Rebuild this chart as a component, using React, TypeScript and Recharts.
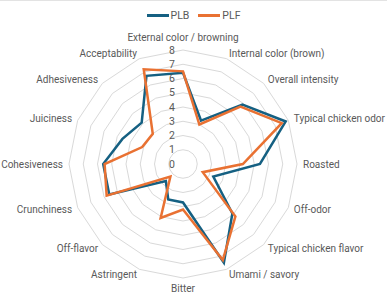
import React from "react";
import {
  RadarChart,
  Radar,
  PolarGrid,
  PolarAngleAxis,
  PolarRadiusAxis,
  Legend,
} from "recharts";

const attributes = [
  "External color / browning",
  "Internal color (brown)",
  "Overall intensity",
  "Typical chicken odor",
  "Roasted",
  "Off-odor",
  "Typical chicken flavor",
  "Umami / savory",
  "Bitter",
  "Astringent",
  "Off-flavor",
  "Crunchiness",
  "Cohesiveness",
  "Juiciness",
  "Adhesiveness",
  "Acceptability",
];
const plb = [6.4, 3.3, 5.9, 7.8, 5.4, 2.3, 4.9, 7.5, 2.7, 2.7, 1.7, 5.6, 5.6, 4.6, 4.1, 6.7];
const plf = [6.5, 3.0, 5.7, 7.5, 4.2, 1.5, 5.2, 7.3, 3.2, 4.1, 1.25, 5.8, 5.5, 3.1, 3.0, 7.2];

const data = attributes.map((attribute, i) => ({
  attribute,
  PLB: plb[i],
  PLF: plf[i],
}));

// chart centre in svg coords (svg sits 1px below page top)
const CX = 183;
const CY = 163;
const R = 114;
const LABEL_R = 120;
const TEXT = "#595959";
const FONT = "Roboto, 'Noto Sans', sans-serif";
const BLUE = "#156082";
const ORANGE = "#E97132";

const AngleTick = (props: any) => {
  const i = attributes.indexOf(props.payload.value);
  const t = (i * 2 * Math.PI) / attributes.length;
  const s = Math.sin(t);
  const c = Math.cos(t);
  const anchor = Math.abs(s) < 0.01 ? "middle" : s > 0 ? "start" : "end";
  const dy = c > 0.99 ? -7 : c < -0.99 ? 4 : 0;
  return (
    <text
      x={CX + LABEL_R * s}
      y={CY - LABEL_R * c + dy}
      textAnchor={anchor}
      dominantBaseline="central"
      fill={TEXT}
      fontSize={10}
      fontFamily={FONT}
    >
      {props.payload.value}
    </text>
  );
};

const RadiusTick = (props: any) => (
  <text
    x={props.x - 8}
    y={props.y}
    textAnchor="end"
    dominantBaseline="central"
    fill={TEXT}
    fontSize={10.5}
    fontFamily={FONT}
  >
    {props.payload.value}
  </text>
);

const LegendContent = () => (
  <div
    style={{
      display: "flex",
      justifyContent: "center",
      gap: 9,
      fontFamily: FONT,
      fontSize: 10.5,
      color: TEXT,
    }}
  >
    {[
      ["PLB", BLUE],
      ["PLF", ORANGE],
    ].map(([name, color]) => (
      <div key={name} style={{ display: "flex", alignItems: "center", gap: 2 }}>
        <div style={{ width: 22, height: 3, background: color }} />
        <span>{name}</span>
      </div>
    ))}
  </div>
);

export default function App() {
  return (
    <div
      style={{
        position: "absolute",
        left: 0,
        top: 0,
        width: 387,
        height: 294,
        background: "#fff",
        borderTop: "1px solid #E3E3E3",
        boxSizing: "border-box",
      }}
    >
      <RadarChart
        width={387}
        height={293}
        cx={CX}
        cy={CY}
        outerRadius={R}
        data={data}
        margin={{ top: 0, right: 0, bottom: 0, left: 0 }}
      >
        <PolarGrid gridType="polygon" radialLines={false} stroke="#D9D9D9" />
        <PolarAngleAxis dataKey="attribute" tick={<AngleTick />} tickLine={false} axisLine={false} />
        <PolarRadiusAxis
          angle={90}
          domain={[0, 8]}
          tickCount={9}
          axisLine={false}
          tickLine={false}
          tick={<RadiusTick />}
        />
        <Radar
          name="PLB"
          dataKey="PLB"
          stroke={BLUE}
          strokeWidth={2.5}
          fill="none"
          fillOpacity={0}
          dot={false}
          isAnimationActive={false}
        />
        <Radar
          name="PLF"
          dataKey="PLF"
          stroke={ORANGE}
          strokeWidth={2.5}
          fill="none"
          fillOpacity={0}
          dot={false}
          isAnimationActive={false}
        />
        <Legend verticalAlign="top" content={<LegendContent />} wrapperStyle={{ top: 8, left: 0, width: 387 }} />
      </RadarChart>
    </div>
  );
}
